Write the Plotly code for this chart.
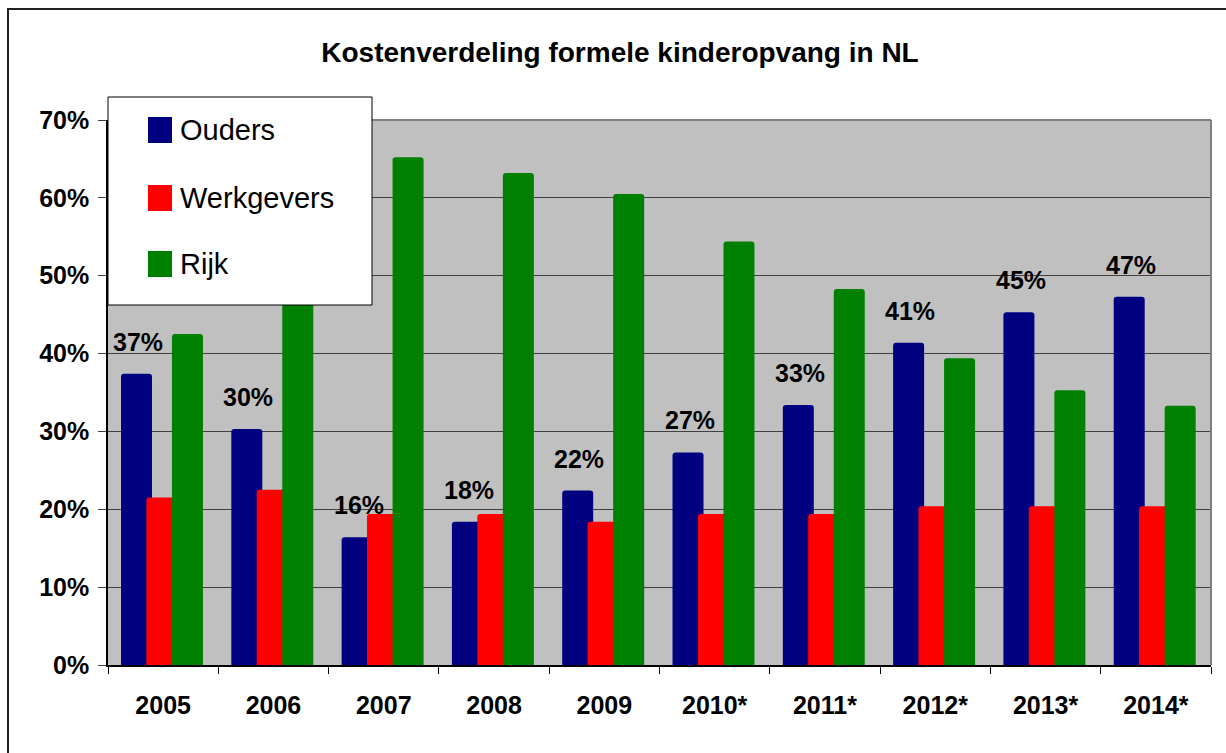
import plotly.graph_objects as go

# dados (percentagens)
years = ["2005", "2006", "2007", "2008", "2009", "2010*", "2011*", "2012*", "2013*", "2014*"]
ouders = [37.4, 30.3, 16.4, 18.4, 22.4, 27.3, 33.4, 41.4, 45.3, 47.3]
werkgevers = [21.5, 22.5, 19.4, 19.4, 18.4, 19.4, 19.4, 20.4, 20.4, 20.4]
rijk = [42.5, 48.0, 65.2, 63.2, 60.5, 54.4, 48.3, 39.4, 35.3, 33.3]
series_names = ["Ouders", "Werkgevers", "Rijk"]
series_colors = ["#000080", "#FF0000", "#008000"]
y_ticks = [0, 10, 20, 30, 40, 50, 60, 70]
y_ticktext = [f"{v}%" for v in y_ticks]

FONT = "Liberation Sans, Arial, sans-serif"

# posição do plot em pixels
W, H = 1226, 753
L, R, T, B = 108, 15, 120, 88
PW, PH = W - L - R, H - T - B


def px(x):
    return (x - L) / PW


def py(y):
    return (H - B - y) / PH


fig = go.Figure()

bar_width = 0.281
offsets = [-0.382, -0.152, 0.080]
for name, vals, color, off in zip(series_names, [ouders, werkgevers, rijk], series_colors, offsets):
    fig.add_trace(
        go.Bar(
            x=years,
            y=vals,
            name=name,
            width=bar_width,
            offset=off,
            marker=dict(color=color, line=dict(width=0), cornerradius=3),
            showlegend=False,
        )
    )

# rótulos por cima das barras dos pais (x = índice da categoria)
for i, v in enumerate(ouders):
    fig.add_annotation(
        x=i, y=v, xref="x", yref="y",
        text=f"{v:.0f}%",
        showarrow=False,
        xanchor="center", yanchor="bottom",
        xshift=-25, yshift=16,
        font=dict(family=FONT, size=25, color="black", weight="bold"),
    )

# moldura exterior
fig.add_shape(type="rect", xref="paper", yref="paper",
              x0=px(8), x1=px(W + 10), y0=py(H + 10), y1=py(9),
              line=dict(color="#222222", width=2), fillcolor="rgba(0,0,0,0)")

# bordas cinzentas do plot (topo e direita)
fig.add_shape(type="line", xref="paper", yref="paper", x0=0, x1=1, y0=1, y1=1,
              line=dict(color="#808080", width=2))
fig.add_shape(type="line", xref="paper", yref="paper", x0=1, x1=1, y0=0, y1=1,
              line=dict(color="#808080", width=2))

# legenda manual
fig.add_shape(type="rect", xref="paper", yref="paper",
              x0=px(108), x1=px(372), y0=py(305), y1=py(97),
              line=dict(color="black", width=1), fillcolor="white")
legend_y = [130, 198, 264]
for name, color, ly in zip(series_names, series_colors, legend_y):
    fig.add_shape(type="rect", xref="paper", yref="paper",
                  x0=px(148), x1=px(172), y0=py(ly + 13), y1=py(ly - 13),
                  line=dict(width=0), fillcolor=color)
    fig.add_annotation(
        x=px(178), y=py(ly), xref="paper", yref="paper",
        text=name, showarrow=False, xanchor="left", yanchor="middle",
        font=dict(family=FONT, size=29, color="black"),
    )

fig.update_layout(
    width=W,
    height=H,
    margin=dict(l=L, r=R, t=T, b=B),
    paper_bgcolor="white",
    plot_bgcolor="#C0C0C0",
    barmode="overlay",
    title=dict(
        text="<b>Kostenverdeling formele kinderopvang in NL</b>",
        x=px(620), xref="paper", xanchor="center",
        y=1 - 52 / H, yanchor="middle",
        font=dict(family=FONT, size=28, color="black"),
    ),
    xaxis=dict(
        type="category",
        range=[-0.5, len(years) - 0.5],
        showline=True, linecolor="black", linewidth=2,
        ticks="outside", tickson="boundaries", ticklen=7, tickcolor="black",
        ticklabelstandoff=17,
        tickfont=dict(family=FONT, size=25, color="black", weight="bold"),
        showgrid=False,
    ),
    yaxis=dict(
        range=[0, 70],
        tickmode="array",
        tickvals=y_ticks,
        ticktext=y_ticktext,
        showline=True, linecolor="black", linewidth=1.5,
        ticks="outside", ticklen=8, tickcolor="#404040",
        ticklabelstandoff=4,
        tickfont=dict(family=FONT, size=25, color="black", weight="bold"),
        showgrid=True, gridcolor="#404040", gridwidth=1,
        zeroline=False,
    ),
)

# sem margem no body para o gráfico ocupar a janela toda
fig.write_html(
    "out.html",
    config={"displayModeBar": False},
    post_script="document.body.style.margin = '0';",
)
